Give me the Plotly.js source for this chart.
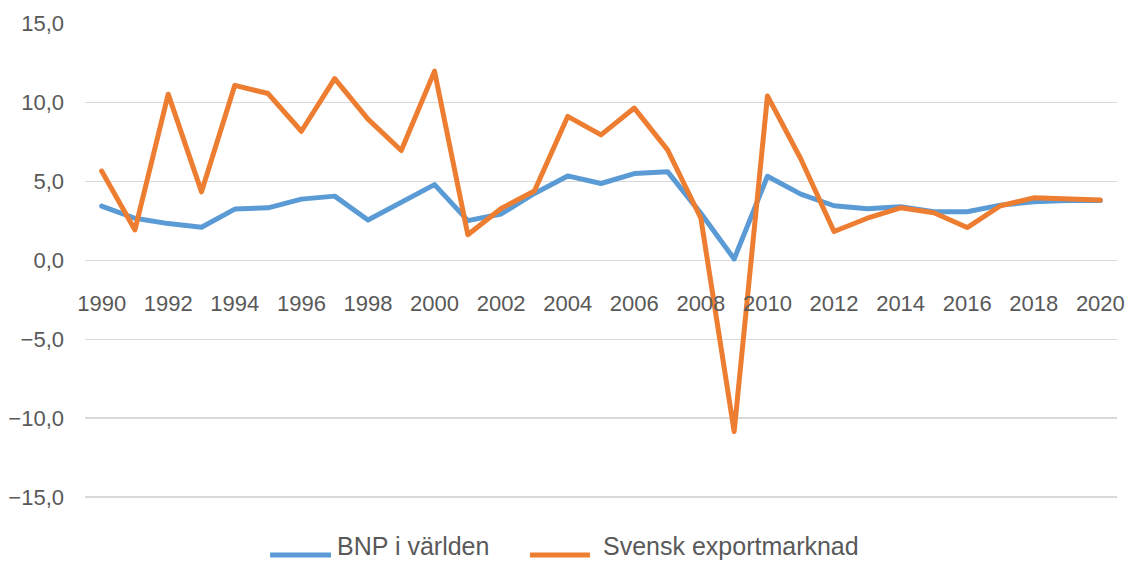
<!DOCTYPE html>
<html>
<head>
<meta charset="utf-8">
<script src="https://cdn.plot.ly/plotly-3.0.1.min.js"></script>
<style>
html,body{margin:0;padding:0;background:#fff;}
#chart{width:1131px;height:563px;}
.scatterlayer path.js-line{stroke-linejoin:round;stroke-linecap:round;}
</style>
</head>
<body>
<div id="chart"></div>
<script>
const years = [1990,1991,1992,1993,1994,1995,1996,1997,1998,1999,2000,2001,2002,2003,2004,2005,2006,2007,2008,2009,2010,2011,2012,2013,2014,2015,2016,2017,2018,2019,2020];
const bnpVarlden = [3.44,2.67,2.33,2.10,3.25,3.33,3.88,4.07,2.56,3.67,4.80,2.52,2.94,4.24,5.35,4.87,5.50,5.62,2.98,0.09,5.33,4.20,3.46,3.27,3.40,3.08,3.08,3.50,3.71,3.80,3.80];
const svenskExport = [5.66,1.93,10.53,4.34,11.09,10.57,8.18,11.51,8.95,6.96,11.99,1.62,3.29,4.40,9.12,7.95,9.65,7.00,2.67,-10.85,10.42,6.44,1.83,2.67,3.33,3.02,2.08,3.46,3.96,3.88,3.82];
const seriesNames = ["BNP i världen","Svensk exportmarknad"];
const seriesColors = ["#5B9BD5","#ED7D31"];
const xTicks = [1990,1992,1994,1996,1998,2000,2002,2004,2006,2008,2010,2012,2014,2016,2018,2020];
const yTicks = [-15,-10,-5,0,5,10,15];

const FAM = "Liberation Sans, Arial, sans-serif";
const tickFont = {family: FAM, size: 22, color: "#595959"};
const legendFont = {family: FAM, size: 25, color: "#595959"};

const traces = [
  {x: years, y: bnpVarlden, name: seriesNames[0], type: "scatter", mode: "lines",
   line: {color: seriesColors[0], width: 5}},
  {x: years, y: svenskExport, name: seriesNames[1], type: "scatter", mode: "lines",
   line: {color: seriesColors[1], width: 5}}
];

// Custom legend (long line samples like the original), placed below the plot
const legendItems = [
  {x0: 0.1793, x1: 0.2384, tx: 0.2432},
  {x0: 0.4312, x1: 0.4893, tx: 0.5010}
];
const legendLineY = -0.1176, legendTextY = -0.0988;
const shapes = legendItems.map((it, i) => ({
  type: "line", xref: "paper", yref: "paper", x0: it.x0, x1: it.x1, y0: legendLineY, y1: legendLineY,
  line: {color: seriesColors[i], width: 5}
}));
const annotations = legendItems.map((it, i) => ({
  xref: "paper", yref: "paper", x: it.tx, y: legendTextY, xanchor: "left", yanchor: "middle",
  text: seriesNames[i], showarrow: false, font: legendFont, borderpad: 0
}));

const layout = {
  width: 1131, height: 563,
  margin: {l: 85, r: 14, t: 23, b: 64},
  paper_bgcolor: "#fff", plot_bgcolor: "#fff",
  separators: ", ",
  font: tickFont,
  showlegend: false,
  shapes: shapes,
  annotations: annotations,
  xaxis: {range: [1989.5, 2020.5], tickvals: xTicks, ticktext: xTicks.map(String),
          anchor: "free", position: 0.5, showgrid: false, zeroline: false, showline: false,
          ticks: "", ticklabelstandoff: 27, tickfont: tickFont, fixedrange: true},
  yaxis: {range: [-15.12, 15.04], tickvals: yTicks, tickformat: ".1f", showgrid: true,
          gridcolor: "#d9d9d9", gridwidth: 1.5, zeroline: false, showline: false,
          ticks: "", ticklabelstandoff: 20, tickfont: tickFont, fixedrange: true}
};

Plotly.newPlot("chart", traces, layout, {displayModeBar: false, staticPlot: true});
</script>
</body>
</html>
